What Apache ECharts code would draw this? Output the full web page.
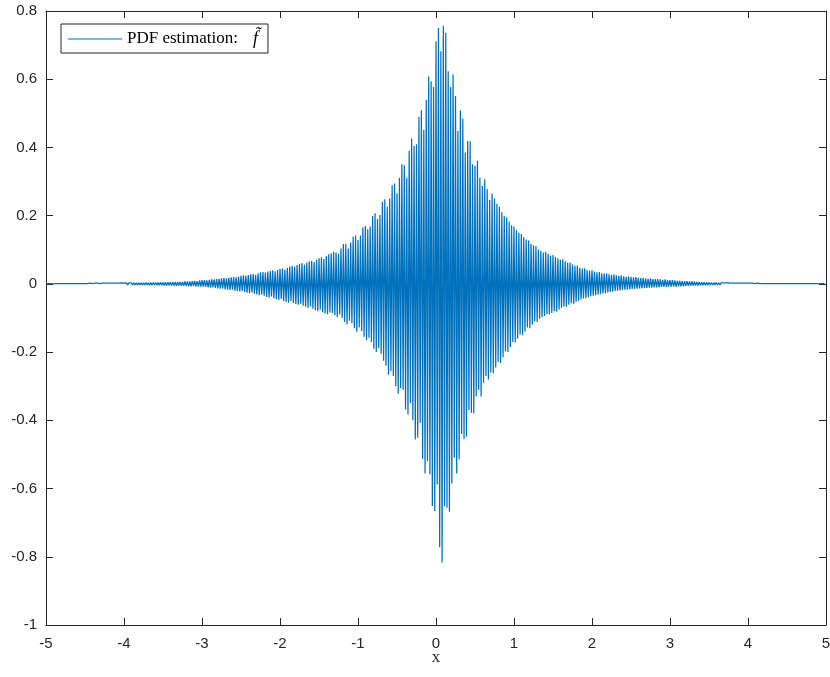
<!DOCTYPE html>
<html>
<head>
<meta charset="utf-8">
<script src="https://cdn.jsdelivr.net/npm/echarts@6/dist/echarts.min.js"></script>
<style>
  html, body { margin: 0; padding: 0; background: #fff; }
  #chart { width: 830px; height: 677px; }
</style>
</head>
<body>
<div id="chart"></div>
<script>
// one oscillation cycle per entry (peak tips / trough tips)
var xStart = -5;
var cycle = 0.03125;
var xTicks = [-5, -4, -3, -2, -1, 0, 1, 2, 3, 4, 5];
var yTicks = [-1, -0.8, -0.6, -0.4, -0.2, 0, 0.2, 0.4, 0.6, 0.8];

var peakTips = [
  0.001,0.001,0.001,0.001,0.001,0.001,0.001,0.001,0.001,0.001,
  0.001,0.001,0.001,0.001,0.001,0.001,0.001,0.001,0.002,0.001,
  0.002,0.002,0.001,0.002,0.002,0.002,0.002,0.002,0.002,0.002,
  0.002,0.003,0.002,0.003,0.003,0.003,0.003,0.003,0.003,0.003,
  0.003,0.004,0.003,0.004,0.004,0.004,0.004,0.005,0.004,0.005,
  0.005,0.005,0.005,0.006,0.006,0.006,0.006,0.007,0.007,0.007,
  0.008,0.009,0.008,0.010,0.011,0.011,0.010,0.012,0.013,0.013,
  0.014,0.015,0.016,0.017,0.016,0.018,0.019,0.020,0.019,0.021,
  0.024,0.025,0.024,0.026,0.028,0.029,0.027,0.031,0.034,0.035,
  0.033,0.036,0.038,0.040,0.037,0.041,0.044,0.045,0.042,0.047,
  0.051,0.053,0.050,0.055,0.059,0.061,0.057,0.063,0.066,0.068,
  0.064,0.071,0.075,0.078,0.073,0.082,0.087,0.090,0.094,0.092,
  0.088,0.104,0.117,0.117,0.104,0.121,0.138,0.142,0.129,0.142,
  0.166,0.170,0.160,0.168,0.199,0.207,0.190,0.202,0.241,0.248,
  0.226,0.250,0.289,0.294,0.265,0.311,0.351,0.348,0.311,0.390,
  0.426,0.404,0.409,0.489,0.509,0.452,0.540,0.608,0.594,0.577,
  0.711,0.750,0.682,0.757,0.736,0.623,0.577,0.614,0.551,0.448,
  0.509,0.484,0.385,0.419,0.418,0.351,0.346,0.361,0.311,0.287,
  0.307,0.278,0.246,0.265,0.250,0.235,0.226,0.210,0.200,0.195,
  0.182,0.172,0.168,0.158,0.150,0.146,0.137,0.130,0.127,0.117,
  0.113,0.111,0.100,0.097,0.092,0.094,0.088,0.083,0.085,0.079,
  0.075,0.071,0.072,0.066,0.062,0.063,0.057,0.053,0.054,0.047,
  0.045,0.046,0.041,0.039,0.040,0.036,0.034,0.035,0.031,0.030,
  0.031,0.028,0.027,0.028,0.025,0.024,0.025,0.022,0.021,0.022,
  0.020,0.019,0.020,0.018,0.017,0.018,0.016,0.015,0.016,0.014,
  0.014,0.014,0.013,0.012,0.013,0.011,0.011,0.011,0.010,0.009,
  0.009,0.008,0.008,0.008,0.007,0.007,0.007,0.006,0.006,0.005,
  0.005,0.005,0.004,0.004,0.004,0.004,0.003,0.003,0.003,0.003,
  0.003,0.002,0.002,0.002,0.002,0.002,0.002,0.002,0.002,0.002,
  0.002,0.001,0.002,0.001,0.001,0.001,0.001,0.001,0.001,0.001,
  0.001,0.001,0.001,0.001,0.001,0.001,0.001,0.001,0.001,0.001,
  0.001,0.001,0.001,0.001,0.001,0.001,0.001,0.001,0.001,0.001
];

var troughTips = [
  -0.001,-0.001,-0.001,-0.001,-0.001,-0.001,-0.001,-0.001,-0.001,-0.001,
  -0.001,-0.001,-0.001,-0.001,-0.001,-0.001,-0.001,-0.001,-0.002,-0.002,
  -0.001,-0.002,-0.002,-0.002,-0.001,-0.002,-0.002,-0.002,-0.002,-0.002,
  -0.002,-0.002,-0.003,-0.003,-0.002,-0.003,-0.003,-0.003,-0.003,-0.003,
  -0.003,-0.003,-0.004,-0.004,-0.003,-0.004,-0.004,-0.004,-0.005,-0.005,
  -0.004,-0.005,-0.005,-0.006,-0.005,-0.006,-0.006,-0.006,-0.007,-0.007,
  -0.006,-0.007,-0.008,-0.008,-0.008,-0.009,-0.010,-0.011,-0.010,-0.012,
  -0.013,-0.014,-0.013,-0.016,-0.017,-0.018,-0.017,-0.020,-0.021,-0.022,
  -0.021,-0.024,-0.026,-0.027,-0.025,-0.029,-0.031,-0.033,-0.031,-0.035,
  -0.038,-0.040,-0.037,-0.042,-0.045,-0.047,-0.044,-0.050,-0.053,-0.055,
  -0.051,-0.056,-0.059,-0.061,-0.058,-0.064,-0.067,-0.070,-0.066,-0.073,
  -0.077,-0.080,-0.076,-0.083,-0.087,-0.089,-0.084,-0.085,-0.092,-0.098,
  -0.090,-0.100,-0.112,-0.118,-0.108,-0.115,-0.130,-0.140,-0.128,-0.138,
  -0.155,-0.165,-0.158,-0.170,-0.190,-0.200,-0.188,-0.205,-0.225,-0.240,
  -0.266,-0.255,-0.270,-0.300,-0.322,-0.305,-0.310,-0.368,-0.383,-0.349,
  -0.400,-0.456,-0.451,-0.407,-0.513,-0.556,-0.520,-0.558,-0.651,-0.666,
  -0.588,-0.772,-0.817,-0.652,-0.656,-0.668,-0.585,-0.510,-0.556,-0.514,
  -0.440,-0.455,-0.448,-0.370,-0.378,-0.380,-0.330,-0.310,-0.330,-0.290,
  -0.270,-0.280,-0.260,-0.262,-0.245,-0.228,-0.232,-0.215,-0.198,-0.200,
  -0.185,-0.170,-0.172,-0.160,-0.148,-0.150,-0.140,-0.128,-0.130,-0.120,
  -0.110,-0.112,-0.102,-0.098,-0.094,-0.089,-0.090,-0.085,-0.080,-0.081,
  -0.075,-0.070,-0.066,-0.067,-0.061,-0.057,-0.058,-0.052,-0.049,-0.046,
  -0.043,-0.042,-0.039,-0.036,-0.035,-0.033,-0.031,-0.030,-0.028,-0.027,
  -0.025,-0.024,-0.023,-0.021,-0.020,-0.019,-0.018,-0.017,-0.017,-0.016,
  -0.015,-0.014,-0.014,-0.013,-0.013,-0.012,-0.012,-0.011,-0.011,-0.010,
  -0.010,-0.010,-0.009,-0.009,-0.009,-0.008,-0.008,-0.008,-0.008,-0.007,
  -0.007,-0.007,-0.006,-0.006,-0.005,-0.005,-0.005,-0.005,-0.004,-0.004,
  -0.004,-0.004,-0.003,-0.003,-0.003,-0.003,-0.003,-0.002,-0.002,-0.002,
  -0.002,-0.002,-0.002,-0.002,-0.002,-0.002,-0.002,-0.002,-0.002,-0.002,
  -0.002,-0.001,-0.001,-0.001,-0.001,-0.001,-0.001,-0.001,-0.001,-0.001,
  -0.001,-0.001,-0.001,-0.001,-0.001,-0.001,-0.001,-0.001,-0.001,-0.001,
  -0.001,-0.001,-0.001,-0.001,-0.001,-0.001,-0.001,-0.001,-0.001,-0.001
];

var pts = [];
for (var k = 0; k < peakTips.length; k++) {
  pts.push([xStart + k * cycle, peakTips[k]]);
  pts.push([xStart + (k + 0.5) * cycle, troughTips[k]]);
}

var axisColor = '#262626';
var sans = '"Liberation Sans", Arial, Helvetica, sans-serif';
var serif = '"Liberation Serif", "DejaVu Serif", serif';

var xBase = {
  type: 'value', min: xTicks[0], max: xTicks[xTicks.length - 1], interval: 1,
  axisLine: { show: true, onZero: false, lineStyle: { color: axisColor, width: 1 } },
  axisTick: { show: true, inside: true, length: 7, lineStyle: { color: axisColor } },
  splitLine: { show: false }
};
var yBase = {
  type: 'value', min: yTicks[0], max: yTicks[yTicks.length - 1], interval: 0.2,
  axisLine: { show: true, onZero: false, lineStyle: { color: axisColor, width: 1 } },
  axisTick: { show: true, inside: true, length: 7, lineStyle: { color: axisColor } },
  splitLine: { show: false }
};

var chart = echarts.init(document.getElementById('chart'), null, { renderer: 'canvas' });
chart.setOption({
  animation: false,
  backgroundColor: '#fff',
  grid: { left: 46, right: 4, top: 11, bottom: 52, show: false, outerBoundsMode: 'none', containLabel: false },
  legend: {
    left: 61, top: 24,
    orient: 'vertical',
    backgroundColor: '#fff',
    borderColor: axisColor, borderWidth: 1,
    padding: [6, 10, 5, 7],
    icon: 'rect',
    itemWidth: 54, itemHeight: 1.2, itemGap: 0,
    formatter: function (name) { return '{t|' + name + '}{f|f\u0303}'; },
    textStyle: {
      color: '#000',
      rich: {
        t: { fontFamily: serif, fontSize: 17, color: '#000' },
        f: { fontFamily: serif, fontSize: 18, fontStyle: 'italic', color: '#000', padding: [0, 0, 0, 15] }
      }
    },
    data: ['PDF estimation:']
  },
  xAxis: [
    Object.assign({}, xBase, {
      position: 'bottom',
      name: 'x', nameLocation: 'middle', nameGap: 24, nameMoveOverlap: false,
      nameTextStyle: { fontFamily: serif, fontSize: 17, color: axisColor },
      axisLabel: { color: axisColor, fontFamily: sans, fontSize: 15, margin: 11 }
    }),
    Object.assign({}, xBase, { position: 'top', axisLabel: { show: false } })
  ],
  yAxis: [
    Object.assign({}, yBase, {
      position: 'left',
      axisLabel: { color: axisColor, fontFamily: sans, fontSize: 15, margin: 9 }
    }),
    Object.assign({}, yBase, { position: 'right', axisLabel: { show: false } })
  ],
  series: [{
    name: 'PDF estimation:',
    type: 'line',
    data: pts,
    symbol: 'none',
    showSymbol: false,
    sampling: null,
    lineStyle: { color: '#0072BD', width: 1.25 },
    itemStyle: { color: '#0072BD' }
  }]
});
</script>
</body>
</html>
